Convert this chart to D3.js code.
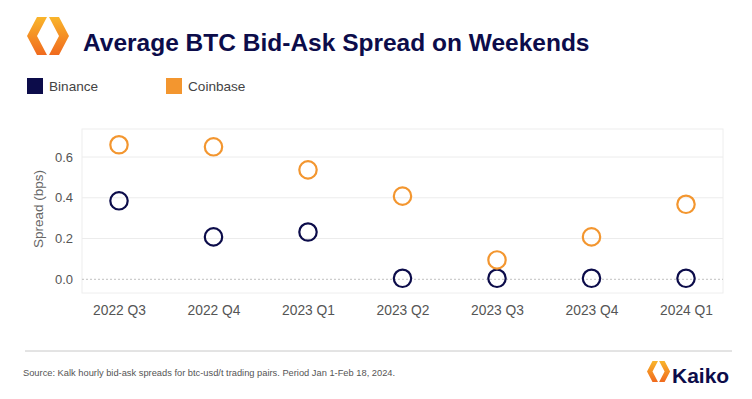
<!DOCTYPE html>
<html><head><meta charset="utf-8">
<script src="https://cdn.jsdelivr.net/npm/d3@7"></script>
<style>body{margin:0;background:#fff;} svg{display:block;font-family:"Liberation Sans",Arial,sans-serif;}</style>
</head><body>
<svg id="c" width="752" height="399"></svg>
<script>
const categories = ["2022 Q3","2022 Q4","2023 Q1","2023 Q2","2023 Q3","2023 Q4","2024 Q1"];
const binance = [0.385,0.208,0.232,0.005,0.005,0.005,0.005];
const coinbase = [0.66,0.65,0.537,0.408,0.095,0.208,0.368];
const yTicks = [0.0,0.2,0.4,0.6];
const seriesNames = ["Binance","Coinbase"];
const colors = ["#0c0c4a","#f3962f"];

const svg = d3.select("#c");
const frame = {l:82, r:723, t:129, b:293};
const x = d3.scalePoint().domain(categories).range([119,686]);
const y = d3.scaleLinear().domain([0,0.6]).range([279.3,157]);

const defs = svg.append("defs");
const g1 = defs.append("linearGradient").attr("id","lg").attr("x1","0").attr("y1","0").attr("x2","0").attr("y2","1");
g1.append("stop").attr("offset","0").attr("stop-color","#f9b52b");
g1.append("stop").attr("offset","1").attr("stop-color","#f06a1e");

function logo(g, s){
  const sc = d => d.replace(/([\d.]+),([\d.]+)/g,(m,a,b)=>(a*s)+","+(b*s));
  g.append("path").attr("d",sc("M10,0 L20,0 L10,19 L20,38 L10,38 L0,19 Z")).attr("fill","url(#lg)");
  g.append("path").attr("d",sc("M22,0 L32,0 L42,19 L32,38 L22,38 L32,19 Z")).attr("fill","url(#lg)");
}
logo(svg.append("g").attr("transform","translate(27,17)"),1);

svg.append("text").attr("x",83).attr("y",51).attr("font-size",24.5).attr("font-weight","bold")
  .attr("fill","#0c0c4a").text("Average BTC Bid-Ask Spread on Weekends");

const legX = [27,166];
seriesNames.forEach((n,i)=>{
  svg.append("rect").attr("x",legX[i]).attr("y",78).attr("width",16).attr("height",16).attr("fill",colors[i]);
  svg.append("text").attr("x",legX[i]+22).attr("y",91).attr("font-size",13.6).attr("fill","#444").text(n);
});

svg.append("rect").attr("x",frame.l).attr("y",frame.t).attr("width",frame.r-frame.l).attr("height",frame.b-frame.t)
  .attr("fill","none").attr("stroke","#eeeeee").attr("stroke-width",1);

yTicks.forEach(t=>{
  if(t===0){
    svg.append("line").attr("x1",frame.l).attr("x2",frame.r).attr("y1",y(t)).attr("y2",y(t))
      .attr("stroke","#b0b0b0").attr("stroke-width",0.8).attr("stroke-dasharray","2,2");
  } else {
    svg.append("line").attr("x1",frame.l).attr("x2",frame.r).attr("y1",y(t)).attr("y2",y(t))
      .attr("stroke","#ececec").attr("stroke-width",1);
  }
});

const yAxis = svg.append("g").attr("transform",`translate(${frame.l},0)`)
  .call(d3.axisLeft(y).tickValues(yTicks).tickFormat(d3.format(".1f")).tickSize(0).tickPadding(9));
yAxis.select(".domain").remove();
yAxis.selectAll("text").attr("font-size",13).attr("fill","#555").attr("font-family","Liberation Sans, Arial, sans-serif");

const xAxis = svg.append("g").attr("transform",`translate(0,${frame.b})`)
  .call(d3.axisBottom(x).tickSize(0).tickPadding(12));
xAxis.select(".domain").remove();
xAxis.selectAll("text").attr("font-size",13.8).attr("fill","#555").attr("font-family","Liberation Sans, Arial, sans-serif");

svg.append("text").attr("transform","translate(43,209) rotate(-90)").attr("text-anchor","middle")
  .attr("font-size",13.5).attr("fill","#666").text("Spread (bps)");

[binance,coinbase].forEach((vals,i)=>{
  svg.append("g").selectAll("circle").data(vals).join("circle")
    .attr("cx",(d,j)=>x(categories[j])).attr("cy",d=>y(d)).attr("r",8.7)
    .attr("fill","none").attr("stroke",colors[i]).attr("stroke-width",2.2);
});

svg.append("line").attr("x1",25).attr("x2",732).attr("y1",351).attr("y2",351).attr("stroke","#c8c8c8").attr("stroke-width",1);
svg.append("text").attr("x",23).attr("y",376).attr("font-size",9.3).attr("fill","#555")
  .text("Source: Kalk hourly bid-ask spreads for btc-usd/t trading pairs. Period Jan 1-Feb 18, 2024.");
logo(svg.append("g").attr("transform","translate(647,361)"),0.55);
svg.append("text").attr("x",672).attr("y",383).attr("font-size",21).attr("font-weight","bold").attr("fill","#0c0c4a").text("Kaiko");
</script>
</body></html>
